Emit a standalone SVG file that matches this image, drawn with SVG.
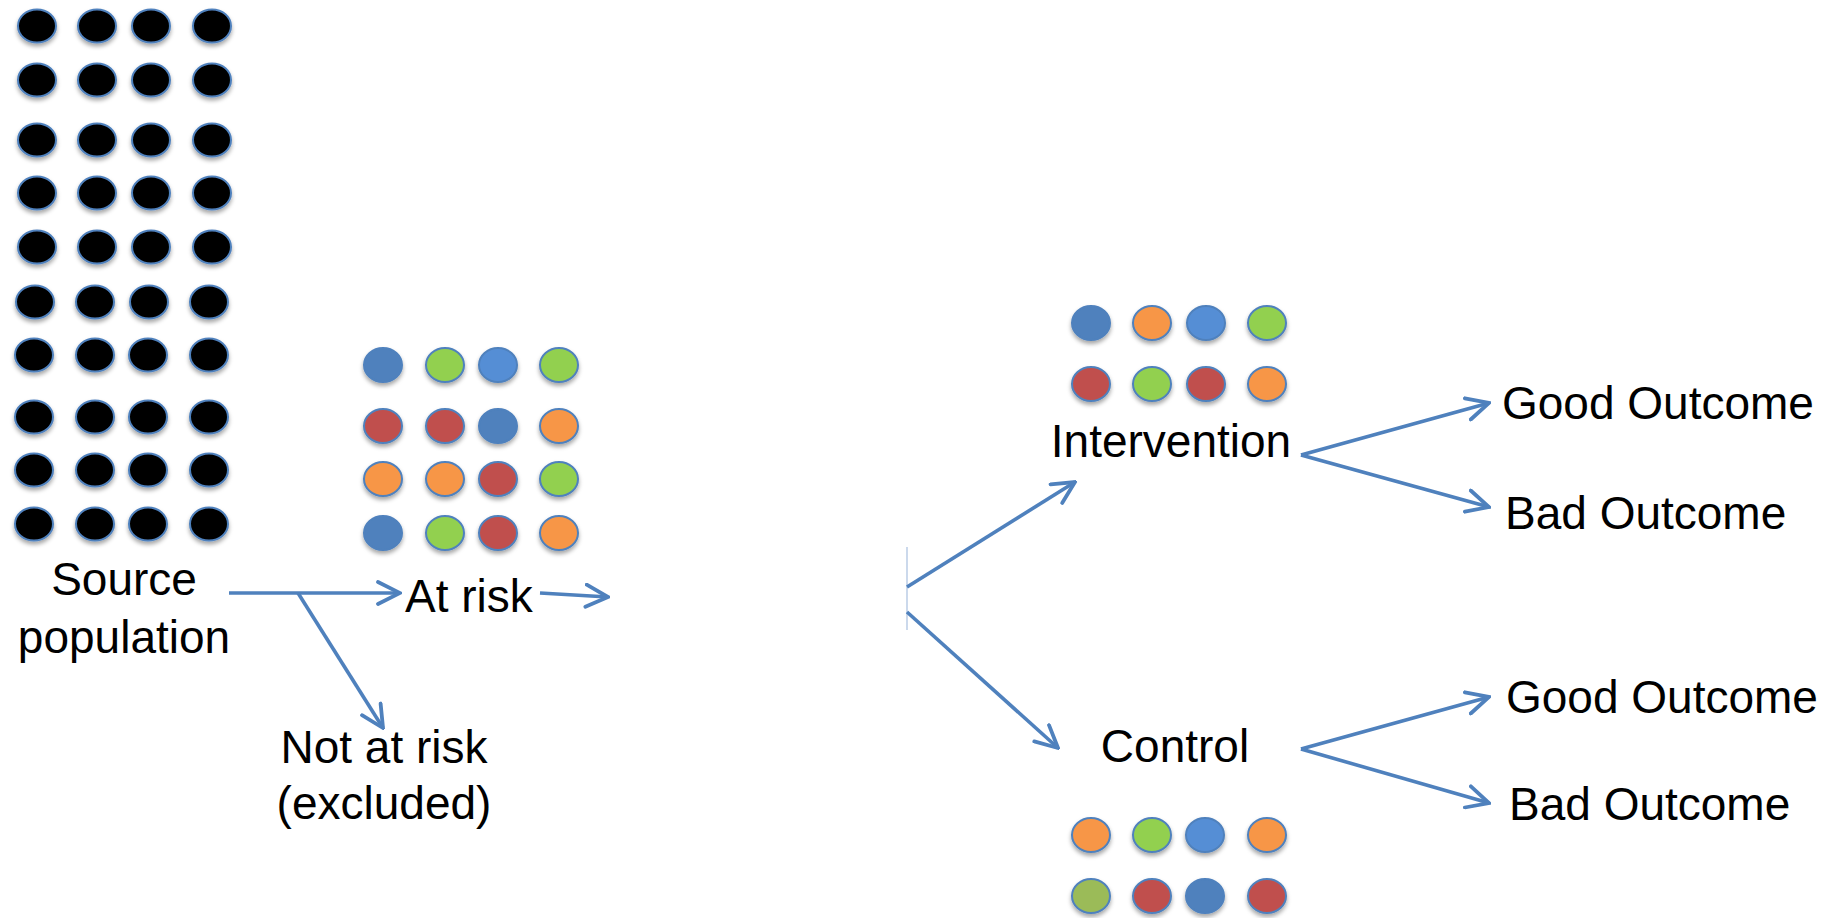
<svg xmlns="http://www.w3.org/2000/svg" width="1826" height="918" viewBox="0 0 1826 918">
<style>
text{font-family:"Liberation Sans",Arial,Helvetica,sans-serif;font-size:46px;fill:#000}
.d{stroke:#4f81bd;stroke-width:2;filter:url(#sh)}
.k{fill:#000}
.b{fill:#4f81bd}
.lb{fill:#558ed5}
.g{fill:#92d050}
.r{fill:#c0504d}
.o{fill:#f79646}
.ol{fill:#9bbb59}
.c{fill:none;stroke:#4f81bd;stroke-width:3.6}
</style>
<defs>
<filter id="sh" x="-50%" y="-50%" width="200%" height="200%">
<feDropShadow dx="0" dy="3" stdDeviation="2" flood-color="#000" flood-opacity="0.35"/>
</filter>
<marker id="ah" markerUnits="userSpaceOnUse" viewBox="0 0 26 26" markerWidth="26" markerHeight="26" refX="24" refY="13" orient="auto">
<path d="M2,2 L24,13 L2,24" fill="none" stroke="#4f81bd" stroke-width="3.8" stroke-linecap="round"/>
</marker>
</defs>
<g id="source-population">
<g class="d k">
<ellipse cx="37" cy="26" rx="19" ry="16.5"/><ellipse cx="97" cy="26" rx="19" ry="16.5"/><ellipse cx="151" cy="26" rx="19" ry="16.5"/><ellipse cx="212" cy="26" rx="19" ry="16.5"/>
<ellipse cx="37" cy="80" rx="19" ry="16.5"/><ellipse cx="97" cy="80" rx="19" ry="16.5"/><ellipse cx="151" cy="80" rx="19" ry="16.5"/><ellipse cx="212" cy="80" rx="19" ry="16.5"/>
<ellipse cx="37" cy="140" rx="19" ry="16.5"/><ellipse cx="97" cy="140" rx="19" ry="16.5"/><ellipse cx="151" cy="140" rx="19" ry="16.5"/><ellipse cx="212" cy="140" rx="19" ry="16.5"/>
<ellipse cx="37" cy="193" rx="19" ry="16.5"/><ellipse cx="97" cy="193" rx="19" ry="16.5"/><ellipse cx="151" cy="193" rx="19" ry="16.5"/><ellipse cx="212" cy="193" rx="19" ry="16.5"/>
<ellipse cx="37" cy="247" rx="19" ry="16.5"/><ellipse cx="97" cy="247" rx="19" ry="16.5"/><ellipse cx="151" cy="247" rx="19" ry="16.5"/><ellipse cx="212" cy="247" rx="19" ry="16.5"/>
<ellipse cx="35" cy="302" rx="19" ry="16.5"/><ellipse cx="95" cy="302" rx="19" ry="16.5"/><ellipse cx="149" cy="302" rx="19" ry="16.5"/><ellipse cx="209" cy="302" rx="19" ry="16.5"/>
<ellipse cx="34" cy="355" rx="19" ry="16.5"/><ellipse cx="95" cy="355" rx="19" ry="16.5"/><ellipse cx="148" cy="355" rx="19" ry="16.5"/><ellipse cx="209" cy="355" rx="19" ry="16.5"/>
<ellipse cx="34" cy="417" rx="19" ry="16.5"/><ellipse cx="95" cy="417" rx="19" ry="16.5"/><ellipse cx="148" cy="417" rx="19" ry="16.5"/><ellipse cx="209" cy="417" rx="19" ry="16.5"/>
<ellipse cx="34" cy="470" rx="19" ry="16.5"/><ellipse cx="95" cy="470" rx="19" ry="16.5"/><ellipse cx="148" cy="470" rx="19" ry="16.5"/><ellipse cx="209" cy="470" rx="19" ry="16.5"/>
<ellipse cx="34" cy="524" rx="19" ry="16.5"/><ellipse cx="95" cy="524" rx="19" ry="16.5"/><ellipse cx="148" cy="524" rx="19" ry="16.5"/><ellipse cx="209" cy="524" rx="19" ry="16.5"/>
</g>
<text x="124" y="595" text-anchor="middle">Source</text>
<text x="124" y="653" text-anchor="middle">population</text>
</g>
<g id="at-risk">
<g class="d">
<ellipse class="b" cx="383" cy="365" rx="19" ry="17"/><ellipse class="g" cx="445" cy="365" rx="19" ry="17"/><ellipse class="lb" cx="498" cy="365" rx="19" ry="17"/><ellipse class="g" cx="559" cy="365" rx="19" ry="17"/>
<ellipse class="r" cx="383" cy="426" rx="19" ry="17"/><ellipse class="r" cx="445" cy="426" rx="19" ry="17"/><ellipse class="b" cx="498" cy="426" rx="19" ry="17"/><ellipse class="o" cx="559" cy="426" rx="19" ry="17"/>
<ellipse class="o" cx="383" cy="479" rx="19" ry="17"/><ellipse class="o" cx="445" cy="479" rx="19" ry="17"/><ellipse class="r" cx="498" cy="479" rx="19" ry="17"/><ellipse class="g" cx="559" cy="479" rx="19" ry="17"/>
<ellipse class="b" cx="383" cy="533" rx="19" ry="17"/><ellipse class="g" cx="445" cy="533" rx="19" ry="17"/><ellipse class="r" cx="498" cy="533" rx="19" ry="17"/><ellipse class="o" cx="559" cy="533" rx="19" ry="17"/>
</g>
<text x="405" y="612">At risk</text>
</g>
<g id="not-at-risk">
<text x="384" y="763" text-anchor="middle">Not at risk</text>
<text x="384" y="819" text-anchor="middle">(excluded)</text>
</g>
<g id="intervention">
<g class="d">
<ellipse class="b" cx="1091" cy="323" rx="19" ry="17"/><ellipse class="o" cx="1152" cy="323" rx="19" ry="17"/><ellipse class="lb" cx="1206" cy="323" rx="19" ry="17"/><ellipse class="g" cx="1267" cy="323" rx="19" ry="17"/>
<ellipse class="r" cx="1091" cy="384" rx="19" ry="17"/><ellipse class="g" cx="1152" cy="384" rx="19" ry="17"/><ellipse class="r" cx="1206" cy="384" rx="19" ry="17"/><ellipse class="o" cx="1267" cy="384" rx="19" ry="17"/>
</g>
<text x="1171" y="457" text-anchor="middle">Intervention</text>
</g>
<g id="control">
<text x="1175" y="762" text-anchor="middle">Control</text>
<g class="d">
<ellipse class="o" cx="1091" cy="835" rx="19" ry="17"/><ellipse class="g" cx="1152" cy="835" rx="19" ry="17"/><ellipse class="lb" cx="1205" cy="835" rx="19" ry="17"/><ellipse class="o" cx="1267" cy="835" rx="19" ry="17"/>
<ellipse class="ol" cx="1091" cy="896" rx="19" ry="17"/><ellipse class="r" cx="1152" cy="896" rx="19" ry="17"/><ellipse class="b" cx="1205" cy="896" rx="19" ry="17"/><ellipse class="r" cx="1267" cy="896" rx="19" ry="17"/>
</g>
</g>
<g id="intervention-good"><text x="1502" y="419">Good Outcome</text></g>
<g id="intervention-bad"><text x="1505" y="529">Bad Outcome</text></g>
<g id="control-good"><text x="1506" y="713">Good Outcome</text></g>
<g id="control-bad"><text x="1509" y="820">Bad Outcome</text></g>
<g id="connectors">
<path class="c" d="M229,593 L400,593" marker-end="url(#ah)"/>
<path class="c" d="M298,593 L383,728" marker-end="url(#ah)"/>
<path class="c" d="M540,593 L608,597" marker-end="url(#ah)"/>
<path d="M907,547 L907,630" stroke="#a9c0e0" stroke-width="1.2" fill="none"/>
<path class="c" d="M907,587 L1075,482" marker-end="url(#ah)"/>
<path class="c" d="M907,612 L1058,748" marker-end="url(#ah)"/>
<path class="c" d="M1301,455 L1489,507" marker-end="url(#ah)"/>
<path class="c" d="M1301,455 L1489,403" marker-end="url(#ah)"/>
<path class="c" d="M1301,749 L1489,803" marker-end="url(#ah)"/>
<path class="c" d="M1301,749 L1489,697" marker-end="url(#ah)"/>
</g>
</svg>
